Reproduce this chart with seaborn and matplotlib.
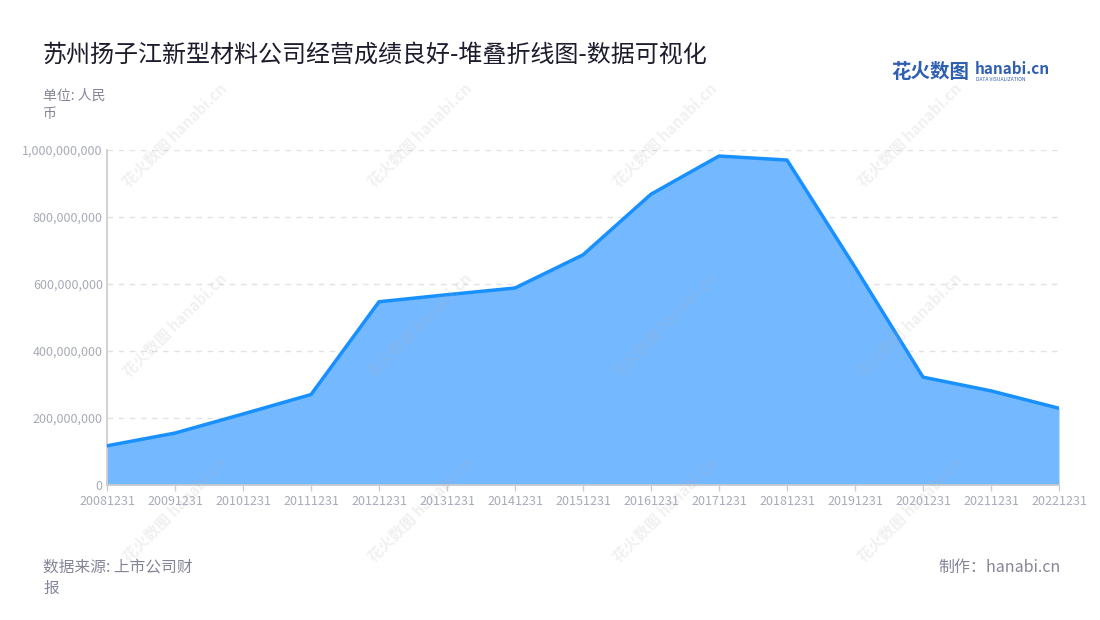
import matplotlib
matplotlib.use("Agg")
import matplotlib.pyplot as plt
import matplotlib.ticker as mticker
import seaborn as sns
import pandas as pd

# Data
dates = ["20081231", "20091231", "20101231", "20111231", "20121231",
         "20131231", "20141231", "20151231", "20161231", "20171231",
         "20181231", "20191231", "20201231", "20211231", "20221231"]
revenue = [117e6, 155e6, 212e6, 270e6, 547e6,
           568e6, 588e6, 687e6, 868e6, 982e6,
           970e6, 650e6, 322e6, 281e6, 229e6]
y_ticks = [0, 200e6, 400e6, 600e6, 800e6, 1000e6]

df = pd.DataFrame({"date": dates, "value": revenue})
df["pos"] = range(len(df))

sns.set_theme(style="white")
plt.rcParams["font.family"] = ["Noto Sans CJK SC", "DejaVu Sans"]

fig = plt.figure(figsize=(11, 6.2), dpi=100)
ax = fig.add_axes([107 / 1100, 1 - 485 / 620, (1059 - 107) / 1100, (485 - 150) / 620])

# faint watermarks
for wx in [175, 420, 665, 910]:
    for wy in [135, 325, 510]:
        fig.text(wx / 1100, 1 - wy / 620, "花火数图 hanabi.cn", rotation=45,
                 ha="center", va="center", fontsize=11, color="#b0b0b0",
                 alpha=0.18, fontweight="bold", zorder=0)

ax.fill_between(df["pos"], df["value"], 0, color="#74b8ff", zorder=2, linewidth=0)
sns.lineplot(data=df, x="pos", y="value", ax=ax, color="#1890ff", linewidth=2.5, zorder=3)

ax.set_xlim(0, len(df) - 1)
ax.set_ylim(0, 1000e6)
ax.set_xticks(df["pos"])
ax.set_xticklabels(df["date"])
ax.set_yticks(y_ticks)
ax.yaxis.set_major_formatter(mticker.FuncFormatter(lambda v, p: f"{int(v):,}"))
ax.tick_params(axis="both", labelsize=9, colors="#a8abb8", length=4, width=1,
               direction="out", bottom=True, left=True, pad=3)
ax.tick_params(axis="x", color="#cccccc")
ax.tick_params(axis="y", length=0)
ax.set_xlabel("")
ax.set_ylabel("")

ax.grid(axis="y", linestyle=(0, (4, 4)), color="#e2e2e2", linewidth=1, zorder=1)
ax.grid(axis="x", visible=False)
for s in ["top", "right"]:
    ax.spines[s].set_visible(False)
ax.spines["left"].set_color("#cccccc")
ax.spines["bottom"].set_color("#cccccc")
ax.set_axisbelow(True)

fig.text(43 / 1100, 1 - 55 / 620, "苏州扬子江新型材料公司经营成绩良好-堆叠折线图-数据可视化",
         fontsize=17.3, color="#1c1c2c", va="center", ha="left")
fig.text(43 / 1100, 1 - 96 / 620, "单位: 人民", fontsize=10, color="#85859a", va="center")
fig.text(43 / 1100, 1 - 114 / 620, "币", fontsize=10, color="#85859a", va="center")
fig.text(43 / 1100, 1 - 567 / 620, "数据来源: 上市公司财", fontsize=11.3, color="#85859a", va="center")
fig.text(43 / 1100, 1 - 588 / 620, "报", fontsize=11.3, color="#85859a", va="center")
fig.text(1061 / 1100, 1 - 567 / 620, "制作：hanabi.cn", fontsize=11.5, color="#85859a",
         va="center", ha="right")

# logo
fig.text(891 / 1100, 1 - 72 / 620, "花火数图", fontsize=14, color="#2f5fb3",
         fontweight="bold", va="center", ha="left")
fig.text(975 / 1100, 1 - 69 / 620, "hanabi.cn", fontsize=11, color="#2f5fb3",
         fontweight="bold", va="center", ha="left")
fig.text(976 / 1100, 1 - 79.5 / 620, "DATA VISUALIZATION", fontsize=3.6, color="#2f5fb3",
         va="center", ha="left")

fig.savefig("out.png", dpi=100)
